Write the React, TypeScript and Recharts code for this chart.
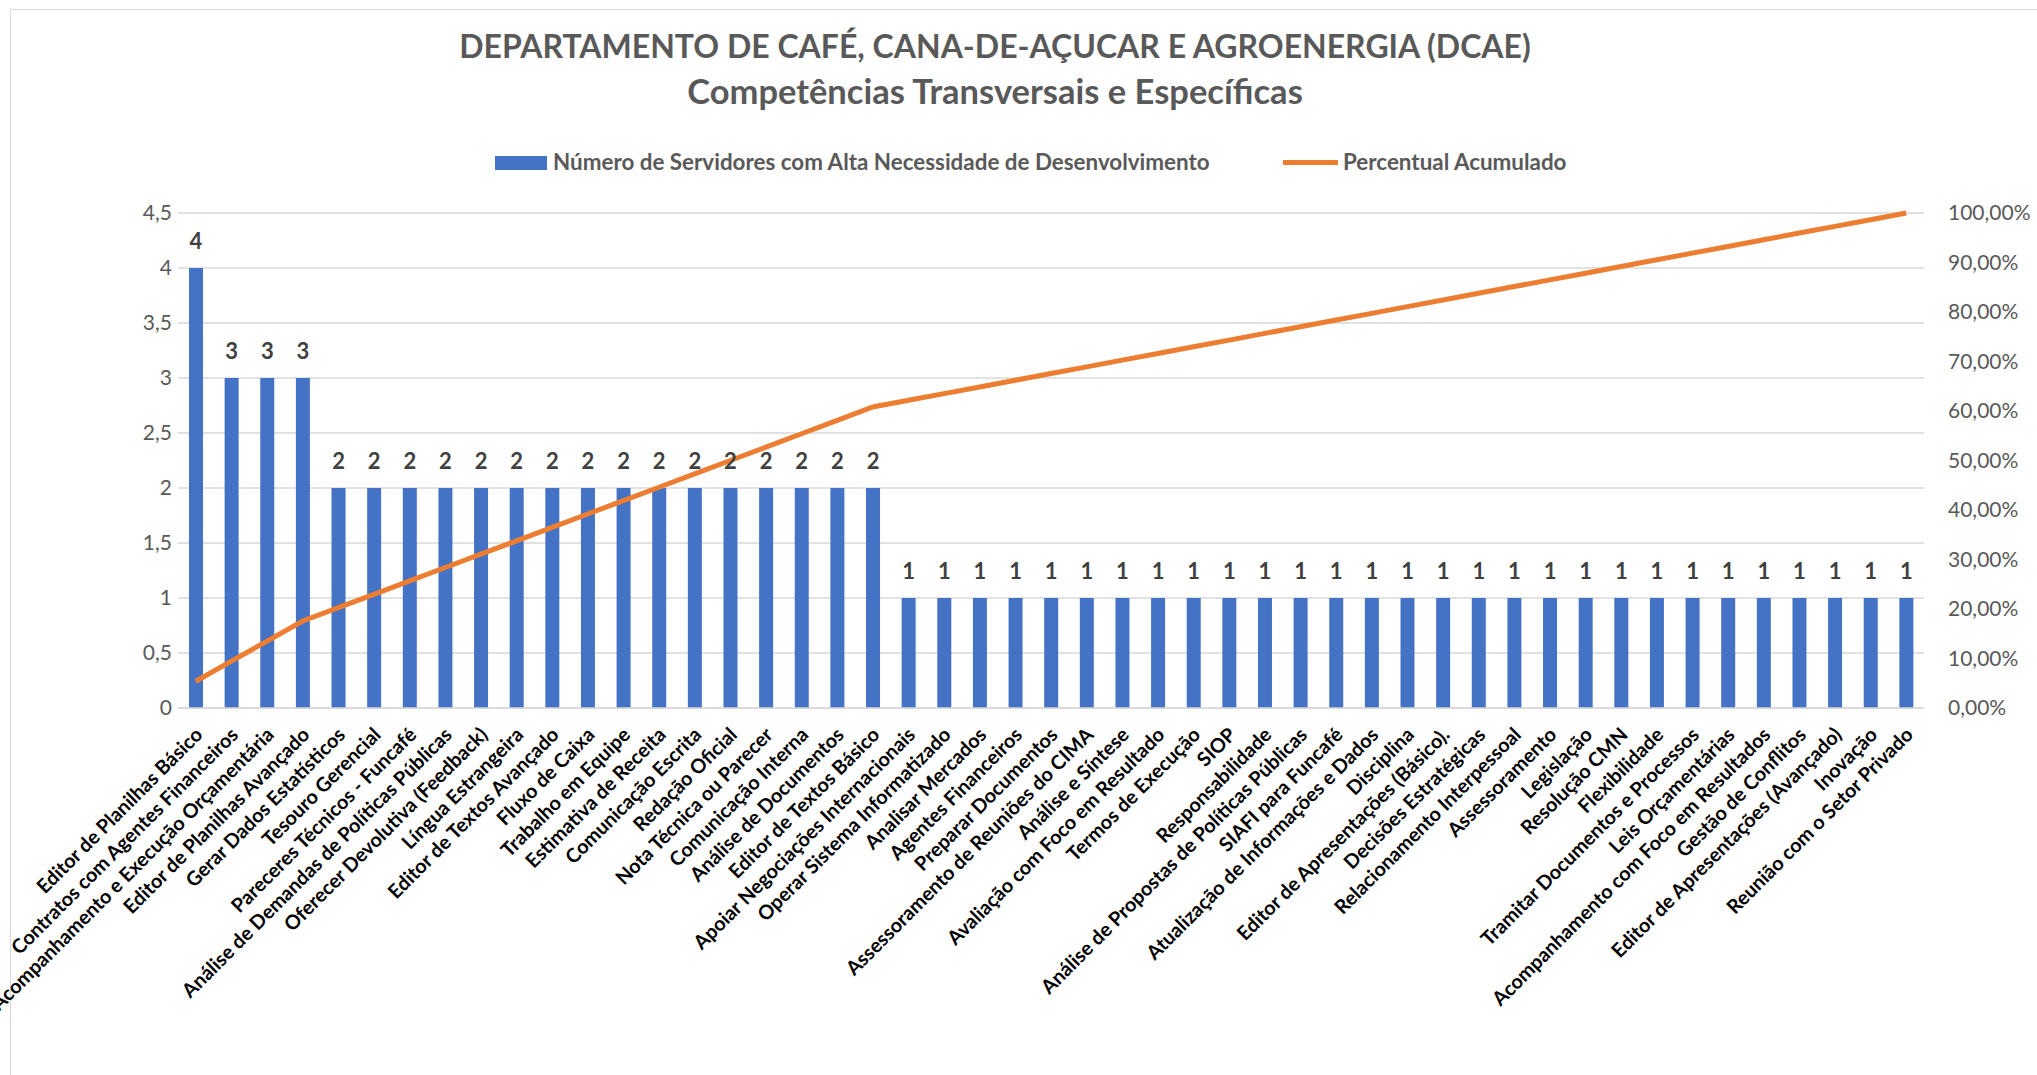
import React from 'react';
import { ComposedChart, Bar, Line, XAxis, YAxis, CartesianGrid, LabelList } from 'recharts';

const TITLE_1 = 'DEPARTAMENTO DE CAFÉ, CANA-DE-AÇUCAR E AGROENERGIA (DCAE)';
const TITLE_2 = 'Competências Transversais e Específicas';
const BAR_NAME = 'Número de Servidores com Alta Necessidade de Desenvolvimento';
const LINE_NAME = 'Percentual Acumulado';

const categories = [
  'Editor de Planilhas Básico',
  'Contratos com Agentes Financeiros',
  'Acompanhamento e Execução Orçamentária',
  'Editor de Planilhas Avançado',
  'Gerar Dados Estatísticos',
  'Tesouro Gerencial',
  'Pareceres Técnicos - Funcafé',
  'Análise de Demandas de Políticas Públicas',
  'Oferecer Devolutiva (Feedback)',
  'Língua Estrangeira',
  'Editor de Textos Avançado',
  'Fluxo de Caixa',
  'Trabalho em Equipe',
  'Estimativa de Receita',
  'Comunicação Escrita',
  'Redação Oficial',
  'Nota Técnica ou Parecer',
  'Comunicação Interna',
  'Análise de Documentos',
  'Editor de Textos Básico',
  'Apoiar Negociações Internacionais',
  'Operar Sistema Informatizado',
  'Analisar Mercados',
  'Agentes Financeiros',
  'Preparar Documentos',
  'Assessoramento de Reuniões do CIMA',
  'Análise e Síntese',
  'Avaliação com Foco em Resultado',
  'Termos de Execução',
  'SIOP',
  'Responsabilidade',
  'Análise de Propostas de Políticas Públicas',
  'SIAFI para Funcafé',
  'Atualização de Informações e Dados',
  'Disciplina',
  'Editor de Apresentações (Básico).',
  'Decisões Estratégicas',
  'Relacionamento Interpessoal',
  'Assessoramento',
  'Legislação',
  'Resolução CMN',
  'Flexibilidade',
  'Tramitar Documentos e Processos',
  'Leis Orçamentárias',
  'Acompanhamento com Foco em Resultados',
  'Gestão de Conflitos',
  'Editor de Apresentações (Avançado)',
  'Inovação',
  'Reunião com o Setor Privado',
];

const counts = [
  4, 3, 3, 3, 2, 2, 2, 2, 2, 2, 2, 2, 2, 2, 2, 2, 2, 2, 2, 2,
  1, 1, 1, 1, 1, 1, 1, 1, 1, 1, 1, 1, 1, 1, 1, 1, 1, 1, 1, 1,
  1, 1, 1, 1, 1, 1, 1, 1, 1,
];

const cumulativePct = [
  5.41, 9.46, 13.51, 17.57, 20.27, 22.97, 25.68, 28.38, 31.08, 33.78,
  36.49, 39.19, 41.89, 44.59, 47.30, 50.0, 52.70, 55.41, 58.11, 60.81,
  62.16, 63.51, 64.86, 66.22, 67.57, 68.92, 70.27, 71.62, 72.97, 74.32,
  75.68, 77.03, 78.38, 79.73, 81.08, 82.43, 83.78, 85.14, 86.49, 87.84,
  89.19, 90.54, 91.89, 93.24, 94.59, 95.95, 97.30, 98.65, 100.0,
];

const leftTicks = [0, 0.5, 1, 1.5, 2, 2.5, 3, 3.5, 4, 4.5];
const rightTicks = [0, 10, 20, 30, 40, 50, 60, 70, 80, 90, 100];

const data = categories.map((name, i) => ({ name, count: counts[i], pct: cumulativePct[i] }));

const FONT = 'Lato, "Open Sans", sans-serif';
const GREY = '#595959';

const CatTick = (props: any) => {
  const { x, y, payload } = props;
  const ax = x + 8;
  const ay = y + 20;
  return (
    <text
      x={ax}
      y={ay}
      transform={`rotate(-45 ${ax} ${ay})`}
      textAnchor="end"
      fontFamily={FONT}
      fontWeight={700}
      fontSize={19.8}
      fill="#000000"
    >
      {payload.value}
    </text>
  );
};

export default function App() {
  return (
    <div style={{ position: 'absolute', left: 0, top: 0, width: 2037, height: 1075, background: '#fff', overflow: 'hidden', fontFamily: FONT }}>
      <div style={{ position: 'absolute', left: 10, top: 9, width: 2100, height: 1200, border: '1.5px solid #d9d9d9' }} />
      <div style={{ position: 'absolute', left: 0, top: 27, width: 1990, textAlign: 'center', fontSize: 32, fontWeight: 700, color: GREY, lineHeight: '38px', whiteSpace: 'nowrap' }}>
        {TITLE_1}
      </div>
      <div style={{ position: 'absolute', left: 0, top: 71, width: 1990, textAlign: 'center', fontSize: 34.5, fontWeight: 700, color: GREY, lineHeight: '40px', whiteSpace: 'nowrap' }}>
        {TITLE_2}
      </div>
      <div style={{ position: 'absolute', left: 495, top: 156, width: 52, height: 14, background: '#4472C4' }} />
      <div style={{ position: 'absolute', left: 553, top: 148, fontSize: 22.4, fontWeight: 700, color: GREY, lineHeight: '28px', whiteSpace: 'nowrap' }}>
        {BAR_NAME}
      </div>
      <div style={{ position: 'absolute', left: 1283, top: 160, width: 55, height: 5, background: '#ED7D31' }} />
      <div style={{ position: 'absolute', left: 1343, top: 148, fontSize: 22.4, fontWeight: 700, color: GREY, lineHeight: '28px', whiteSpace: 'nowrap' }}>
        {LINE_NAME}
      </div>
      <div style={{ position: 'absolute', left: 0, top: 0 }}>
        <ComposedChart width={2037} height={1075} data={data} margin={{ top: 213, right: 0, bottom: 0, left: 0 }}>
          <CartesianGrid yAxisId="left" vertical={false} stroke="#d9d9d9" strokeWidth={1.5} />
          <XAxis
            dataKey="name"
            interval={0}
            height={367}
            tickLine={false}
            axisLine={{ stroke: '#d9d9d9', strokeWidth: 1.5 }}
            tick={<CatTick />}
          />
          <YAxis
            yAxisId="left"
            orientation="left"
            width={178}
            domain={[0, 4.5]}
            ticks={leftTicks}
            axisLine={false}
            tickLine={false}
            tickSize={6}
            tickMargin={0}
            tickFormatter={(v: number) => String(v).replace('.', ',')}
            tick={{ fill: GREY, fontSize: 21, fontFamily: FONT }}
          />
          <YAxis
            yAxisId="right"
            orientation="right"
            width={113}
            domain={[0, 100]}
            ticks={rightTicks}
            axisLine={false}
            tickLine={false}
            tickSize={6}
            tickMargin={18}
            tickFormatter={(v: number) => v.toFixed(2).replace('.', ',') + '%'}
            tick={{ fill: GREY, fontSize: 21, fontFamily: FONT, textAnchor: 'start' }}
          />
          <Bar yAxisId="left" dataKey="count" fill="#4472C4" barSize={14} isAnimationActive={false}>
            <LabelList dataKey="count" position="top" offset={19} fill="#404040" fontSize={22} fontWeight={700} fontFamily={FONT} />
          </Bar>
          <Line yAxisId="right" type="linear" dataKey="pct" stroke="#ED7D31" strokeWidth={5} dot={false} activeDot={false} isAnimationActive={false} />
        </ComposedChart>
      </div>
    </div>
  );
}
